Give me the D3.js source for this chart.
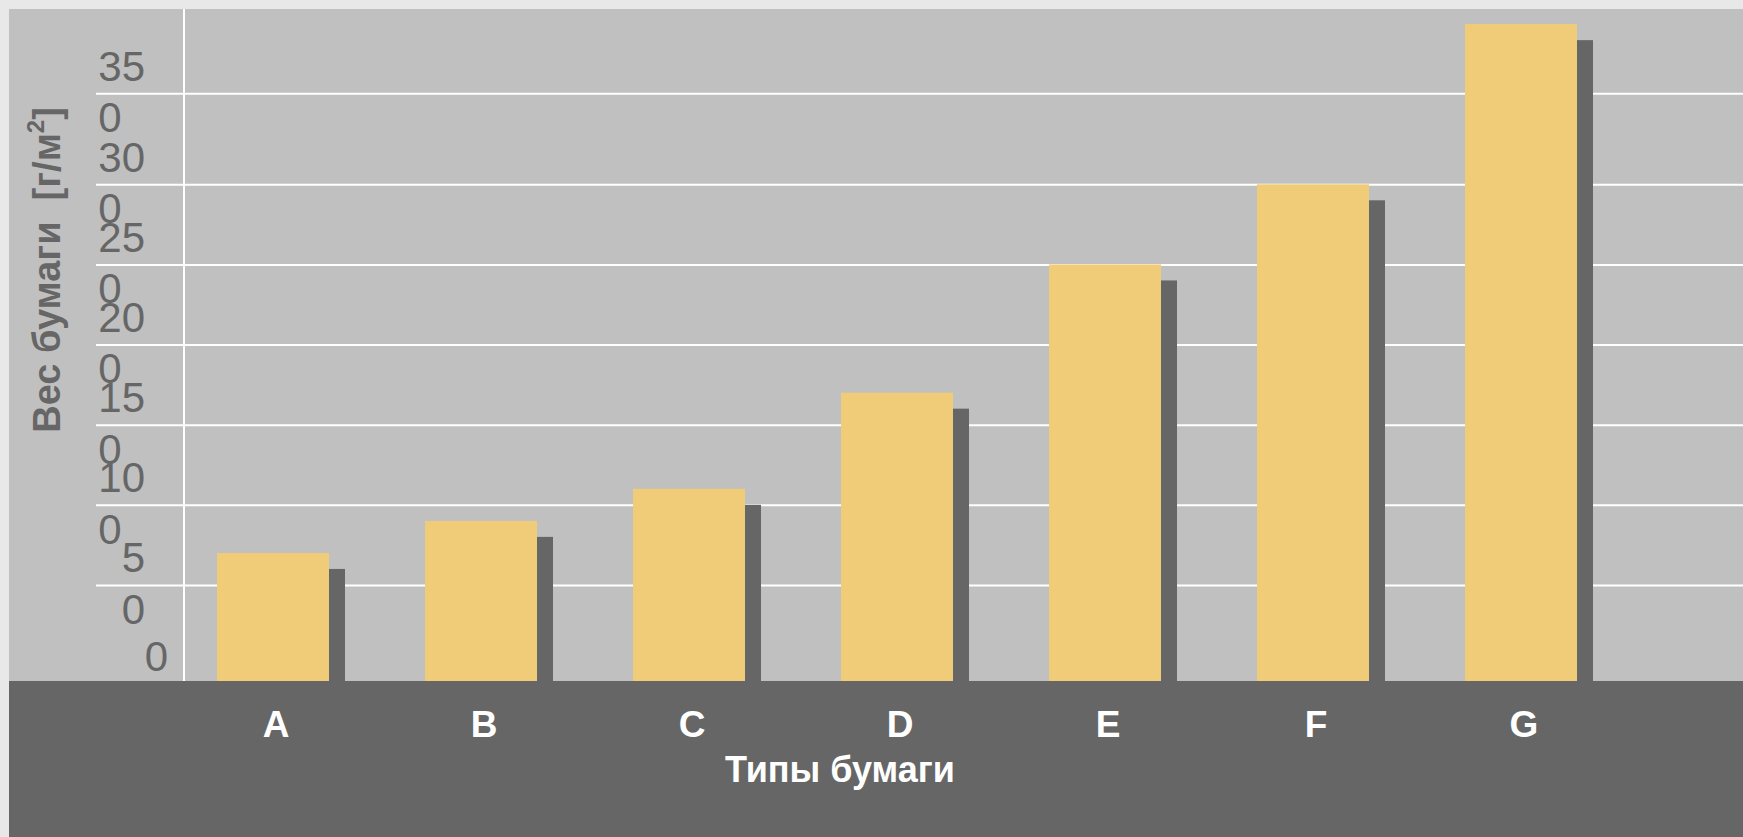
<!DOCTYPE html>
<html>
<head>
<meta charset="utf-8">
<script src="https://cdn.jsdelivr.net/npm/d3@7"></script>
<style>
  html, body { margin: 0; padding: 0; background: #e8e8e8; }
  svg { display: block; font-family: "Liberation Sans", Arial, sans-serif; }
</style>
</head>
<body>
<svg id="chart" width="1743" height="837"></svg>
<script>
// Paper weight by paper type
const categories = ["A", "B", "C", "D", "E", "F", "G"];
const weights = [70, 90, 110, 170, 250, 300, 388];
const tickValues = [0, 50, 100, 150, 200, 250, 300, 350];
const tickLabels = ["0", "5\n0", "10\n0", "15\n0", "20\n0", "25\n0", "30\n0", "35\n0"];

const W = 1743, H = 837;
const plot = { left: 9, top: 9, right: W, bottom: 681 };
const axisX = 184;        // vertical axis line
const gridStart = 96;     // gridlines start under the tick labels
const shadow = 16;

const svg = d3.select("#chart");

// Page border + plot background + bottom band
svg.append("rect").attr("x", 0).attr("y", 0).attr("width", W).attr("height", H).attr("fill", "#e8e8e8");
svg.append("rect")
  .attr("x", plot.left).attr("y", plot.top)
  .attr("width", plot.right - plot.left).attr("height", plot.bottom - plot.top)
  .attr("fill", "#c0c0c0");

const x = d3.scaleBand()
  .domain(categories)
  .range([169, 1625])
  .paddingInner(96 / 208)
  .paddingOuter(48 / 208);

const y = d3.scaleLinear()
  .domain([0, 50, 300, 350])
  .range([658, 585, 184.3, 93.3]);

// Gridlines through the axis generator
const gAxis = svg.append("g")
  .attr("transform", `translate(${gridStart},0)`)
  .call(d3.axisLeft(y).tickValues(tickValues.filter(v => v > 0)).tickSize(-(W - gridStart)).tickFormat(""));
gAxis.select(".domain").remove();
gAxis.selectAll(".tick line").attr("stroke", "#ffffff").attr("stroke-width", 2);

// Vertical axis line
svg.append("line")
  .attr("x1", axisX).attr("x2", axisX)
  .attr("y1", plot.top).attr("y2", plot.bottom)
  .attr("stroke", "#ffffff").attr("stroke-width", 2);

// Tick labels (wrapped into narrow column)
const fontSize = 42, lineGap = 51.6, capH = 30;
tickValues.forEach((v, i) => {
  const lines = tickLabels[i].split("\n");
  const blockH = (lines.length - 1) * lineGap + capH;
  const cy = y(v) - 2;
  const firstBaseline = cy - blockH / 2 + capH;
  const t = svg.append("text")
    .attr("fill", "#666666")
    .attr("font-size", fontSize);
  lines.forEach((ln, j) => {
    t.append("tspan").attr("y", firstBaseline + j * lineGap).text(ln);
  });
  const widths = [];
  t.selectAll("tspan").each(function () { widths.push(this.getComputedTextLength()); });
  const blockW = d3.max(widths);
  const right = lines.length > 1 ? 145 : 168;
  t.selectAll("tspan").attr("x", right - blockW);
});

// Bars with drop shadow
const bw = x.bandwidth();
svg.append("g").selectAll("rect")
  .data(weights)
  .join("rect")
  .attr("x", (d, i) => x(categories[i]) + shadow)
  .attr("y", d => y(d) + shadow)
  .attr("width", bw)
  .attr("height", d => plot.bottom - y(d) - shadow)
  .attr("fill", "#666666");

svg.append("g").selectAll("rect")
  .data(weights)
  .join("rect")
  .attr("x", (d, i) => x(categories[i]))
  .attr("y", d => y(d))
  .attr("width", bw)
  .attr("height", d => plot.bottom - y(d))
  .attr("fill", "#f0cc78");

// Bottom band with category labels
svg.append("rect")
  .attr("x", plot.left).attr("y", plot.bottom)
  .attr("width", W - plot.left).attr("height", H - plot.bottom)
  .attr("fill", "#666666");

svg.append("g").selectAll("text")
  .data(categories)
  .join("text")
  .attr("x", d => x(d) + bw / 2 + 3)
  .attr("y", 737)
  .attr("text-anchor", "middle")
  .attr("fill", "#ffffff")
  .attr("font-weight", "bold")
  .attr("font-size", 37)
  .text(d => d);

svg.append("text")
  .attr("x", 840).attr("y", 782)
  .attr("text-anchor", "middle")
  .attr("fill", "#ffffff")
  .attr("font-weight", "bold")
  .attr("font-size", 36)
  .text("Типы бумаги");

// Y axis title
const yt = svg.append("text")
  .attr("transform", "translate(60,270) rotate(-90)")
  .attr("text-anchor", "middle")
  .attr("fill", "#666666")
  .attr("font-weight", "bold")
  .attr("font-size", 38);
yt.append("tspan").text("Вес бумаги\u00a0\u00a0[г/м");
yt.append("tspan").attr("font-size", 24).attr("dy", -16).text("2");
yt.append("tspan").attr("dy", 16).text("]");
</script>
</body>
</html>
